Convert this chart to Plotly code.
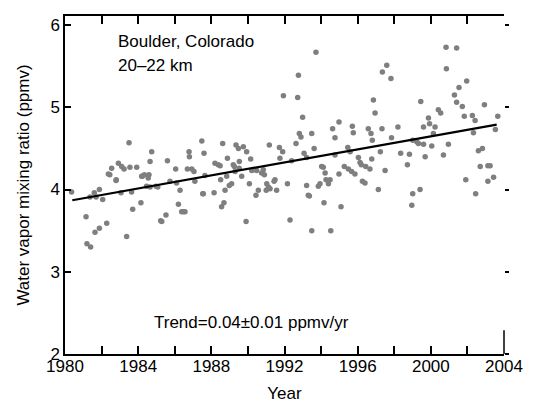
import plotly.graph_objects as go

years = [
    1980.36, 1981.15, 1981.20, 1981.40, 1981.37, 1981.60, 1981.70, 1981.64, 1981.88, 1981.88,
    1982.06, 1982.28, 1982.37, 1982.55, 1982.79, 1982.92, 1983.10, 1983.23, 1983.06, 1983.37,
    1983.50, 1983.55, 1983.64, 1983.70, 1983.92, 1984.19, 1984.15, 1984.34, 1984.46, 1984.59,
    1984.74, 1984.65, 1984.65, 1984.98, 1985.07, 1985.23, 1985.52, 1985.60, 1986.05, 1986.10,
    1986.20, 1986.29, 1986.38, 1986.56, 1986.69, 1986.78, 1986.80, 1986.93, 1987.05, 1987.10,
    1987.48, 1987.60, 1987.53, 1987.65, 1988.15, 1988.20, 1988.38, 1988.51, 1988.56, 1988.69,
    1988.62, 1988.75, 1988.88, 1988.98, 1989.11, 1989.26, 1989.20, 1989.35, 1989.48, 1989.53,
    1989.66, 1989.75, 1989.90, 1989.93, 1990.08, 1990.15, 1990.21, 1990.30, 1990.44, 1990.57,
    1990.75, 1990.84, 1991.03, 1991.12, 1991.17, 1991.21, 1991.43, 1991.57, 1991.72, 1991.75,
    1991.90, 1991.94, 1992.16, 1992.30, 1992.39, 1992.63, 1992.72, 1992.76, 1992.81, 1992.90,
    1992.99, 1993.07, 1993.21, 1993.21, 1993.30, 1993.49, 1993.49, 1993.62, 1993.72, 1993.85,
    1993.94, 1994.03, 1994.16, 1994.22, 1994.27, 1994.40, 1994.53, 1994.63, 1994.76, 1994.76,
    1994.98, 1994.98, 1995.09, 1995.27, 1995.46, 1995.49, 1995.59, 1995.67, 1995.71, 1995.76,
    1995.85, 1996.04, 1996.13, 1996.26, 1996.40, 1996.44, 1996.58, 1996.67, 1996.73, 1996.77,
    1996.80, 1996.86, 1996.95, 1997.13, 1997.24, 1997.33, 1997.35, 1997.50, 1997.59, 1997.82,
    1997.85, 1998.20, 1998.35, 1998.72, 1998.83, 1998.96, 1999.01, 1999.01, 1999.23, 1999.32,
    1999.41, 1999.45, 1999.60, 1999.60, 1999.69, 1999.87, 1999.93, 2000.05, 2000.14, 2000.23,
    2000.41, 2000.54, 2000.69, 2000.83, 2000.85, 2000.96, 2001.29, 2001.41, 2001.41, 2001.54,
    2001.72, 2001.83, 2001.91, 2001.96, 2002.27, 2002.33, 2002.42, 2002.45, 2002.60, 2002.70,
    2002.82, 2002.93, 2003.12, 2003.12, 2003.24, 2003.43, 2003.53, 2003.66,
    1982.45, 1982.80, 1984.23, 1984.55, 1985.29, 1985.74, 1986.47, 1987.56, 1988.48, 1988.84,
    1989.30, 1989.52, 1990.48, 1990.90, 1991.00, 1991.48, 1993.36, 1994.12, 1994.49, 1996.20,
]
ppmv = [
    3.97, 3.67, 3.34, 3.30, 3.91, 3.96, 3.91, 3.48, 3.53, 4.00,
    3.88, 3.59, 4.19, 4.26, 4.11, 4.32, 4.28, 4.25, 3.96, 3.43,
    4.57, 4.27, 3.97, 3.76, 4.27, 4.16, 3.84, 4.18, 4.04, 4.18,
    4.46, 4.34, 4.03, 4.04, 4.03, 3.62, 3.69, 4.35, 4.25, 4.08,
    3.82, 3.99, 3.73, 3.73, 4.25, 4.46, 4.40, 4.25, 4.22, 4.10,
    4.59, 4.44, 3.95, 4.17, 3.96, 4.32, 4.30, 4.12, 3.79, 3.84,
    4.56, 3.99, 4.38, 4.05, 4.07, 4.28, 4.30, 4.54, 4.50, 4.34,
    4.16, 4.52, 3.61, 4.46, 4.07, 4.37, 4.23, 4.24, 3.93, 3.99,
    4.20, 4.24, 4.07, 4.03, 4.54, 4.01, 4.10, 3.99, 4.51, 4.38,
    4.46, 5.14, 4.07, 3.63, 4.35, 4.56, 5.12, 5.39, 4.68, 4.64,
    4.88, 4.44, 4.05, 4.39, 3.93, 4.68, 3.50, 4.50, 5.67, 4.04,
    4.07, 4.28, 3.84, 4.20, 4.12, 4.07, 3.50, 4.74, 4.63, 4.42,
    4.82, 4.19, 3.79, 4.28, 4.51, 4.25, 4.46, 4.22, 4.77, 4.69,
    4.19, 4.39, 4.33, 4.10, 4.08, 4.28, 4.74, 4.25, 4.68, 4.37,
    4.60, 5.09, 4.93, 4.00, 4.46, 4.74, 5.43, 4.23, 5.51, 5.35,
    4.63, 4.76, 4.44, 4.30, 4.43, 3.81, 3.95, 4.60, 4.58, 4.56,
    4.00, 5.07, 4.76, 4.55, 4.40, 4.87, 4.80, 4.53, 4.68, 4.76,
    4.97, 4.93, 4.42, 5.73, 5.47, 4.55, 5.15, 5.72, 5.06, 5.24,
    5.01, 4.89, 4.12, 5.32, 4.90, 4.69, 4.84, 3.95, 4.47, 4.28,
    4.50, 5.03, 4.29, 4.10, 4.29, 4.15, 4.73, 4.89,
    4.18, 4.12, 4.16, 4.14, 3.61, 4.10, 3.73, 3.95, 4.29, 4.16,
    4.22, 4.26, 4.23, 4.18, 3.99, 4.12, 3.92, 4.27, 4.12, 4.30,
]

# Linear trend line end points
trend_years = [1980.4, 2003.6]
trend_ppmv = [3.87, 4.79]

# Axis ticks
x_tickvals = [1980, 1982, 1984, 1986, 1988, 1990, 1992, 1994, 1996, 1998, 2000, 2002, 2004]
x_ticktext = ["1980", "", "1984", "", "1988", "", "1992", "", "1996", "", "2000", "", "2004"]
y_tickvals = [2, 3, 4, 5, 6]
y_range = [2, 6.11]

FONT = "Liberation Sans, Arial, sans-serif"

fig = go.Figure()
fig.add_trace(go.Scatter(
    x=years, y=ppmv, mode="markers",
    marker=dict(size=5.5, color="#7f7f7f", line=dict(width=0)),
    showlegend=False, hoverinfo="x+y",
))
fig.add_trace(go.Scatter(
    x=trend_years, y=trend_ppmv, mode="lines",
    line=dict(color="black", width=2.2),
    showlegend=False,
))
# invisible trace to activate the right-hand tick axis
fig.add_trace(go.Scatter(x=[trend_years[0]], y=[trend_ppmv[0]], yaxis="y2",
                         mode="markers", marker=dict(opacity=0), showlegend=False,
                         hoverinfo="skip"))

fig.update_layout(
    width=534, height=403,
    margin=dict(l=65, r=30, t=16, b=49),
    paper_bgcolor="white", plot_bgcolor="white",
    font=dict(family=FONT, size=17, color="black"),
    xaxis=dict(
        range=[1980, 2004], tickvals=x_tickvals, ticktext=x_ticktext,
        ticks="inside", ticklen=8, tickwidth=1.5, tickcolor="black",
        showline=True, linecolor="black", linewidth=1.5, mirror="ticks",
        showgrid=False, zeroline=False, automargin=False,
        ticklabelstandoff=-4,
        title=dict(text="Year", font=dict(size=17), standoff=16),
        tickfont=dict(size=17),
    ),
    yaxis=dict(
        range=y_range, tickvals=y_tickvals,
        ticks="inside", ticklen=6, tickwidth=1.5, tickcolor="black",
        showline=True, linecolor="black", linewidth=1.5, mirror=False,
        showgrid=False, zeroline=False, automargin=False,
        title=dict(text="Water vapor mixing ratio (ppmv)", font=dict(size=17), standoff=16),
        tickfont=dict(size=17),
    ),
    yaxis2=dict(
        range=y_range, tickvals=y_tickvals, overlaying="y", side="right",
        ticks="outside", ticklen=4, tickwidth=1.5, tickcolor="black",
        showticklabels=False, showline=False, showgrid=False, zeroline=False,
        automargin=False,
    ),
    shapes=[
        dict(type="line", xref="paper", yref="paper", x0=1, x1=1, y0=0, y1=0.07,
             line=dict(color="black", width=1.5)),
    ],
    annotations=[
        dict(text="Boulder, Colorado", xref="paper", yref="paper", x=0.116, y=0.924,
             xanchor="left", yanchor="middle", showarrow=False, font=dict(size=17)),
        dict(text="20\u201322 km", xref="paper", yref="paper", x=0.116, y=0.855,
             xanchor="left", yanchor="middle", showarrow=False, font=dict(size=17)),
        dict(text="Trend=0.04\u00b10.01 ppmv/yr", xref="paper", yref="paper", x=0.198, y=0.092,
             xanchor="left", yanchor="middle", showarrow=False, font=dict(size=17)),
    ],
)

fig.write_html("out.html")
